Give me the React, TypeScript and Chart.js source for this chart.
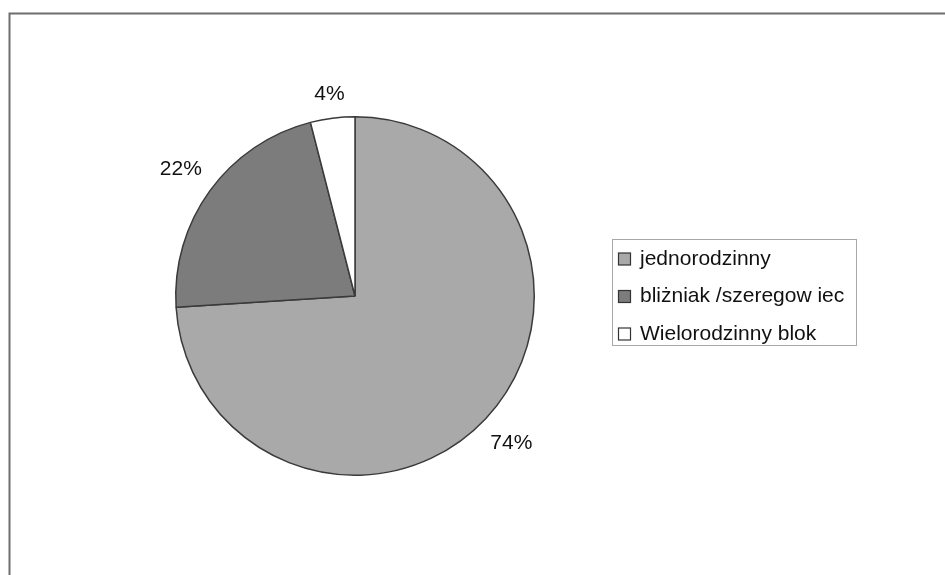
import React, { useEffect, useRef } from "react";
import { Chart, registerables } from "chart.js";

Chart.register(...registerables);

// Building types and their share (percent)
const categories: string[] = ["jednorodzinny", "bliżniak /szeregow iec", "Wielorodzinny blok"];
const shares: number[] = [74, 22, 4];
const sliceColors: string[] = ["#a9a9a9", "#7c7c7c", "#ffffff"];

const FONT = '"Liberation Sans", Arial, Helvetica, sans-serif';

// Outer frame around the whole chart
const framePlugin = {
  id: "frame",
  afterDraw(chart: any) {
    const ctx = chart.ctx;
    ctx.save();
    ctx.strokeStyle = "#6e6e6e";
    ctx.lineWidth = 2;
    ctx.beginPath();
    ctx.moveTo(9.5, chart.height + 2);
    ctx.lineTo(9.5, 13.5);
    ctx.lineTo(chart.width + 2, 13.5);
    ctx.stroke();
    ctx.restore();
  },
};

// Percentage labels placed just outside each slice; the text box sits
// a fixed gap away from the rim, measured from its nearest edge.
const sliceLabelPlugin = {
  id: "sliceLabels",
  afterDatasetsDraw(chart: any) {
    const ctx = chart.ctx;
    const meta = chart.getDatasetMeta(0);
    const values = chart.data.datasets[0].data as number[];
    ctx.save();
    ctx.font = `21px ${FONT}`;
    ctx.fillStyle = "#111111";
    ctx.textAlign = "center";
    ctx.textBaseline = "middle";
    const textH = 17;
    const gap = 14;
    meta.data.forEach((arc: any, i: number) => {
      const p = arc.getProps(["x", "y", "startAngle", "endAngle", "outerRadius"], true);
      const text = `${values[i]}%`;
      const w = ctx.measureText(text).width;
      const mid = (p.startAngle + p.endAngle) / 2;
      const c = Math.cos(mid);
      const s = Math.sin(mid);
      const r = p.outerRadius + gap + Math.abs(c) * (w / 2) + Math.abs(s) * (textH / 2);
      ctx.fillText(text, p.x + c * r, p.y + s * r);
    });
    ctx.restore();
  },
};

// Boxed legend on the right
const boxLegendPlugin = {
  id: "boxLegend",
  afterDraw(chart: any) {
    const ctx = chart.ctx;
    const labels = chart.data.labels as string[];
    const colors = chart.data.datasets[0].backgroundColor as string[];
    const box = { x: 612.5, y: 239.5, w: 244, h: 106 };
    ctx.save();
    ctx.strokeStyle = "#a8a8a8";
    ctx.lineWidth = 1;
    ctx.strokeRect(box.x, box.y, box.w, box.h);
    ctx.font = `21px ${FONT}`;
    ctx.textAlign = "left";
    ctx.textBaseline = "middle";
    labels.forEach((label, i) => {
      const cy = 259 + i * 37.5;
      ctx.fillStyle = colors[i];
      ctx.fillRect(618.5, cy - 6, 12, 12);
      ctx.strokeStyle = "#333333";
      ctx.lineWidth = 1.2;
      ctx.strokeRect(618.5, cy - 6, 12, 12);
      ctx.fillStyle = "#111111";
      ctx.fillText(label, 640, cy);
    });
    ctx.restore();
  },
};

export default function App() {
  const canvasRef = useRef<HTMLCanvasElement | null>(null);

  useEffect(() => {
    if (!canvasRef.current) return;
    const chart = new Chart(canvasRef.current, {
      type: "pie",
      data: {
        labels: categories,
        datasets: [
          {
            data: shares,
            backgroundColor: sliceColors,
            borderColor: "#3a3a3a",
            borderWidth: 1.5,
          },
        ],
      },
      options: {
        animation: false,
        responsive: false,
        maintainAspectRatio: false,
        layout: { padding: { left: 175, right: 410, top: 116, bottom: 99 } },
        plugins: {
          legend: { display: false },
          tooltip: { enabled: false },
          title: { display: false },
        },
      },
      plugins: [sliceLabelPlugin, boxLegendPlugin, framePlugin],
    });
    return () => chart.destroy();
  }, []);

  return (
    <div style={{ position: "fixed", left: 0, top: 0, width: 945, height: 575, background: "#ffffff" }}>
      <canvas ref={canvasRef} width={945} height={575} style={{ width: 945, height: 575, display: "block" }} />
    </div>
  );
}
